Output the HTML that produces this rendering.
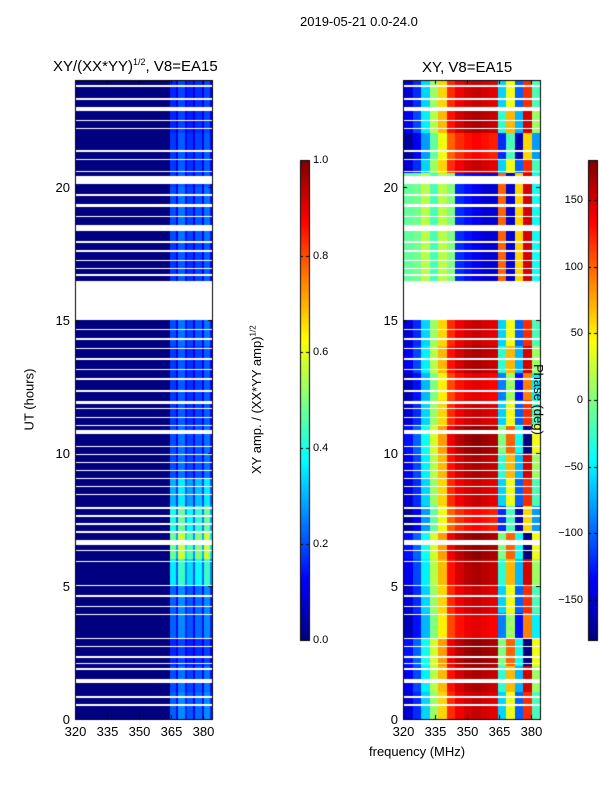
<!DOCTYPE html>
<html><head><meta charset="utf-8"><style>
body{margin:0;background:#fff;width:600px;height:800px;position:relative;overflow:hidden;font-family:"Liberation Sans",sans-serif}
.t{position:absolute;white-space:nowrap;color:#000}
canvas{position:absolute;left:0;top:0}
</style></head><body>
<canvas id="c" width="600" height="800"></canvas>
<div class="t" style="left:300px;top:14px;font-size:13px">2019-05-21 0.0-24.0</div>
<div class="t" style="left:53px;top:57px;font-size:15px">XY/(XX*YY)<sup style="font-size:9px">1/2</sup>, V8=EA15</div>
<div class="t" style="left:422px;top:59px;font-size:15px">XY, V8=EA15</div>
<div class="t" style="left:-2px;top:392px;font-size:13px;transform:rotate(-90deg)">UT (hours)</div>
<div class="t" style="left:182px;top:392px;font-size:13px;transform:rotate(-90deg)">XY amp. / (XX*YY amp)<sup style="font-size:8px">1/2</sup></div>
<div class="t" style="left:503px;top:392px;font-size:13px;transform:rotate(90deg)">Phase (deg)</div>
<div class="t" style="left:369px;top:744px;font-size:13px">frequency (MHz)</div>
<div id="lab"></div>
<script>
const hours=[0,5,10,15,20];
const freqTicks=[320,335,350,365,380];
const ampTicks=[0.0,0.2,0.4,0.6,0.8,1.0];
const phaseTicks=[-150,-100,-50,0,50,100,150];
const gaps=[[23.75,23.82],[23.25,23.32],[22.85,23.0],[22.45,22.52],[22.15,22.22],[21.3,21.37],[21.0,21.05],[20.55,20.6],[20.1,20.4],[19.65,19.72],[19.25,19.35],[18.85,18.9],[18.35,18.55],[17.9,17.95],[17.55,17.6],[17.2,17.25],[16.9,16.95],[16.65,16.7],[15.0,16.45],[14.6,14.65],[14.25,14.3],[13.9,13.95],[13.5,13.55],[13.1,13.15],[12.75,12.8],[12.3,12.35],[11.85,11.95],[11.65,11.7],[11.3,11.35],[11.0,11.05],[10.7,10.85],[10.2,10.25],[9.9,9.95],[9.6,9.65],[9.3,9.35],[9.0,9.05],[8.7,8.75],[8.4,8.45],[7.9,7.97],[7.6,7.65],[7.3,7.35],[7.0,7.05],[6.55,6.72],[6.3,6.35],[5.9,5.95],[5.0,5.05],[4.6,4.65],[4.2,4.25],[3.9,3.95],[3.0,3.05],[2.7,2.75],[2.3,2.35],[2.05,2.1],[1.85,1.9],[1.35,1.5],[0.8,0.85],[0.5,0.55]];
// amplitude per 4-MHz band (320..384)
const ampBands=[0,0,0,0,0,0,0,0,0,0,0,0.2,0.24,0.19,0.21,0.24];
// amplitude scale per hour 0..23
const ampHour=[1.1,1.0,0.8,1.1,1.1,1.8,2.4,2.0,1.5,1.0,1.0,0.9,0.9,0.9,1.0,1.0,0.9,0.9,1.0,1.0,0.9,0.9,0.8,0.8];
// phase per 4-MHz band, normal hours and 16.5-20.5 hours
const phaseBands=[-150,-120,-60,10,60,120,140,150,155,150,145,-60,40,-100,120,-20];
const phaseBandsB=[-10,-5,20,-20,20,0,-120,-130,-140,-150,-150,100,-150,60,150,-40];
// per-hour phase offset
const phaseHour=[0,10,20,-10,0,10,20,-20,0,10,20,0,-10,10,0,0,0,0,0,0,0,-20,10,0];
const X0=320,X1=384.3,T1=24;
const yS=h=>719-h*26.62, yInv=y=>(719-y)/26.62;
const xL=f=>75+(f-X0)*2.13, xR=f=>403+(f-X0)*2.13, xInv=x=>X0+x/2.13;
function jet(v){v=Math.max(0,Math.min(1,v));const r=Math.min(4*v-1.5,-4*v+4.5),g=Math.min(4*v-0.5,-4*v+3.5),b=Math.min(4*v+0.5,-4*v+2.5);
const c=x=>Math.round(255*Math.max(0,Math.min(1,x)));return `rgb(${c(r)},${c(g)},${c(b)})`;}
const ctx=document.getElementById('c').getContext('2d');
const inGap=h=>gaps.some(g=>h>=g[0]&&h<g[1]);
for(let y=81;y<719;y++){
 const h=yInv(y+0.5);
 if(h<0||h>=T1||inGap(h))continue;
 const hi=Math.floor(h);const alt=h>16.4&&h<20.5;
 for(let px=0;px<137;px++){
  const f=xInv(px+0.5);
  const b=Math.min(15,Math.floor((f-X0)/4));
  const sub=(Math.floor(f-X0)%4===3)?0.6:1;
  const a=ampBands[b]*ampHour[hi]*sub;
  ctx.fillStyle=jet(a);
  ctx.fillRect(xL(X0)+px+1,y,1,1);
  const p=(alt?phaseBandsB[b]:phaseBands[b])+phaseHour[hi]*(b>10?3:1);
  const pp=((p+180)%360+360)%360;
  ctx.fillStyle=jet(pp/360);
  ctx.fillRect(xR(X0)+px+1,y,1,1);
 }
}
ctx.strokeStyle='#000';ctx.lineWidth=1;
const lab=document.getElementById('lab');
function txt(s,x,y,fs,align,name){const d=document.createElement('div');d.className='t';d.textContent=s;


d.style.fontSize=fs+'px';d.style.top=(y-fs*0.6)+'px';
if(align==='c'){d.style.left=x+'px';d.style.transform='translateX(-50%)';}else if(align==='r'){d.style.right=(600-x)+'px';}else d.style.left=x+'px';lab.appendChild(d);}
[[75,xL],[403,xR]].forEach(([x0,xs],i)=>{
 ctx.strokeRect(x0+0.5,80.5,137,639);
 hours.forEach(h=>{const y=Math.round(yS(h))+0.5;ctx.beginPath();ctx.moveTo(x0,y);ctx.lineTo(x0+4,y);ctx.moveTo(x0+137,y);ctx.lineTo(x0+133,y);ctx.stroke();txt(String(h),x0-5,y,13,'r','y-tick-label');});
 freqTicks.forEach(f=>{const x=Math.round(xs(f))+0.5;ctx.beginPath();ctx.moveTo(x,719);ctx.lineTo(x,715);ctx.moveTo(x,80);ctx.lineTo(x,84);ctx.stroke();txt(String(f),x,732,13,'c','x-tick-label');});
});
function cbar(x,ticks,lo,hi,name,fmt,left){
 for(let y=160;y<640;y++){ctx.fillStyle=jet((640-y)/480);ctx.fillRect(x,y,9,1);}
 ctx.strokeRect(x+0.5,160.5,9,480);
 ticks.forEach(v=>{const y=Math.round(640-(v-lo)/(hi-lo)*480)+0.5;ctx.beginPath();ctx.moveTo(x,y);ctx.lineTo(x+3,y);ctx.moveTo(x+9,y);ctx.lineTo(x+6,y);ctx.stroke();
  if(left)txt(fmt(v),x-5,y,11,'r',name);else txt(fmt(v),x+13,y,11,'l',name);});
}
cbar(300,ampTicks,0,1,'amp-colorbar-tick',v=>v.toFixed(1),false);
cbar(588,phaseTicks,-180,180,'phase-colorbar-tick',v=>v<0?'\u2212'+(-v):String(v),true);
</script>
</body></html>
